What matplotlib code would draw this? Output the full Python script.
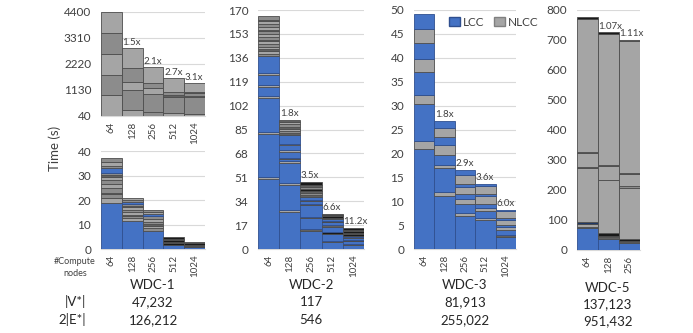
import matplotlib

matplotlib.use("Agg")
import matplotlib.pyplot as plt
from matplotlib.patches import Patch

plt.rcParams["font.family"] = ["Lato", "DejaVu Sans"]

# segment colours: L = LCC, the rest are NLCC shades
COLORS = {
    "L": "#4472C4",
    "N": "#A5A5A5",
    "M": "#8C8C8C",
    "D": "#606060",
    "K": "#1A1A1A",
    "V": "#203864",
}

nodes_5 = ["64", "128", "256", "512", "1024"]
nodes_3 = ["64", "128", "256"]

# each bar: list of (segment top, colour code), bottom to top
wdc1_top = [
    [(920, "N"), (1760, "M"), (2640, "N"), (3540, "M"), (4400, "N")],
    [(290, "N"), (1130, "M"), (1470, "N"), (2060, "M"), (2900, "N")],
    [(200, "M"), (960, "M"), (1210, "N"), (1420, "M"), (2093, "N")],
    [(165, "N"), (835, "M"), (900, "D"), (1050, "M"), (1630, "N")],
    [(130, "N"), (830, "M"), (880, "D"), (1000, "M"), (1050, "D"), (1420, "N")],
]
wdc1_bot = [
    [(18.8, "L"), (20.8, "N"), (22.5, "M"), (23.0, "D"), (25.0, "M"), (26.5, "N"),
     (28.0, "M"), (29.5, "N"), (30.3, "D"), (31.0, "M"), (33.0, "L"), (34.0, "M"),
     (35.5, "N"), (37.0, "M")],
    [(11.4, "L"), (12.5, "N"), (13.5, "M"), (14.0, "D"), (15.0, "N"), (16.0, "M"),
     (17.0, "N"), (17.5, "D"), (18.2, "M"), (19.0, "L"), (20.0, "M"), (21.0, "N")],
    [(7.4, "L"), (8.5, "M"), (9.5, "N"), (10.2, "D"), (11.2, "M"), (12.3, "N"),
     (13.3, "M"), (14.3, "L"), (15.2, "N"), (16.0, "M")],
    [(1.8, "L"), (2.4, "K"), (3.0, "D"), (3.6, "K"), (4.2, "D"), (4.9, "K")],
    [(0.8, "L"), (1.3, "K"), (1.8, "D"), (2.3, "K"), (2.9, "D")],
]
wdc2 = [
    [(49.5, "L"), (51, "N"), (82, "L"), (83.5, "N"), (107.5, "L"), (109, "N"),
     (115.5, "L"), (117, "N"), (124, "L"), (125.5, "N"), (137, "L"), (139, "M"),
     (141, "N"), (142, "D"), (144, "N"), (146, "M"), (148, "N"), (149, "D"),
     (151, "M"), (153, "N"), (155, "M"), (156, "D"), (158, "N"), (160, "M"),
     (162, "N"), (163, "D"), (166, "M")],
    [(26, "L"), (27.5, "N"), (45.5, "L"), (47, "N"), (61, "L"), (62.5, "N"),
     (64, "L"), (65, "D"), (69, "L"), (70.5, "N"), (74, "L"), (75, "N"),
     (81, "L"), (82.5, "D"), (84, "M"), (85.5, "N"), (87, "D"), (89, "M"),
     (90, "N"), (91.5, "D")],
    [(13, "L"), (14, "D"), (22, "L"), (23, "D"), (31, "L"), (32, "D"), (34, "L"),
     (35, "D"), (37, "L"), (38.5, "D"), (40, "M"), (41.5, "D"), (42.5, "K"),
     (44, "M"), (45.5, "D"), (47.4, "K")],
    [(5, "L"), (6, "D"), (11, "L"), (12, "K"), (16, "L"), (17, "D"), (19, "L"),
     (20, "K"), (21, "L"), (22, "D"), (23.5, "K"), (24.2, "D"), (25.2, "K")],
    [(3, "L"), (3.5, "D"), (6, "L"), (6.5, "K"), (8, "L"), (8.5, "D"), (9.5, "L"),
     (11, "K"), (11.5, "D"), (13, "K"), (13.5, "D"), (14.8, "K")],
]
wdc3 = [
    [(21, "L"), (22.5, "N"), (30.3, "L"), (32.2, "N"), (37, "L"), (39.7, "N"),
     (43.1, "L"), (46, "N"), (49.2, "L")],
    [(11, "L"), (12, "N"), (17, "L"), (17.6, "N"), (19.7, "L"), (21.8, "N"),
     (23.4, "L"), (25.3, "N"), (26.8, "L")],
    [(7, "L"), (7.5, "N"), (9.5, "L"), (10.5, "N"), (11.5, "L"), (13, "N"),
     (13.5, "L"), (15.5, "N"), (16.5, "L")],
    [(6, "L"), (6.5, "N"), (8, "L"), (8.5, "N"), (9.5, "L"), (11, "N"),
     (11.5, "L"), (13.2, "N"), (13.7, "L")],
    [(2.5, "L"), (3, "D"), (4, "L"), (4.5, "N"), (5, "L"), (6, "N"), (6.5, "L"),
     (8, "N"), (8.2, "L")],
]
wdc5 = [
    [(73, "L"), (78, "D"), (86, "N"), (93, "V"), (273, "N"), (276, "D"),
     (323, "N"), (326, "D"), (769, "N"), (776, "K")],
    [(38, "L"), (42, "D"), (48, "N"), (56, "K"), (232, "N"), (235, "D"),
     (279, "N"), (282, "D"), (721, "N"), (725, "K")],
    [(23, "L"), (26, "D"), (31, "N"), (37, "K"), (208, "N"), (212, "M"),
     (253, "N"), (256, "D"), (697, "N"), (699, "D")],
]

speedup_wdc1 = ["", "1.5x", "2.1x", "2.7x", "3.1x"]
speedup_wdc2 = ["", "1.8x", "3.5x", "6.6x", "11.2x"]
speedup_wdc3 = ["", "1.8x", "2.9x", "3.6x", "6.0x"]
speedup_wdc5 = ["", "1.07x", "1.11x"]

datasets = ["WDC-1", "WDC-2", "WDC-3", "WDC-5"]
v_counts = ["47,232", "117", "81,913", "137,123"]
e_counts = ["126,212", "546", "255,022", "951,432"]

W, H = 693, 333
TXT = "#404040"


def rect(x0, x1, ytop, ybot):
    return [x0 / W, 1 - ybot / H, (x1 - x0) / W, (ybot - ytop) / H]


def draw_stack(ax, bars, labels, ylim, ticks, speedups=None):
    for i, segs in enumerate(bars):
        bottom = 0
        for top, code in segs:
            edge = "#2F4F8F" if code == "L" else "#4D4D4D"
            ax.bar(i, top - bottom, bottom=bottom, width=1.0, color=COLORS[code],
                   edgecolor=edge, linewidth=0.6, zorder=3)
            bottom = top
        if speedups and speedups[i]:
            ax.text(i - 0.47, bottom + (ylim[1] - ylim[0]) * 0.008, speedups[i],
                    ha="left", va="bottom", fontsize=7, color=TXT, zorder=4)
    ax.set_xlim(-0.5, len(bars) - 0.5)
    ax.set_ylim(*ylim)
    ax.set_yticks(ticks)
    ax.set_yticklabels([str(t) for t in ticks], fontsize=8.5, color=TXT)
    ax.set_xticks(range(len(bars)))
    ax.set_xticklabels(labels, rotation=90, fontsize=7, color=TXT)
    ax.tick_params(length=0, pad=7)
    ax.tick_params(axis="x", pad=4)
    ax.grid(axis="y", color="#D9D9D9", linewidth=0.8, zorder=0)
    for side in ["top", "right", "left"]:
        ax.spines[side].set_visible(False)
    ax.spines["bottom"].set_color("#D9D9D9")


fig = plt.figure(figsize=(6.93, 3.33), dpi=100)

ax1t = fig.add_axes(rect(101, 205, 12, 116))
draw_stack(ax1t, wdc1_top, nodes_5, (40, 4400), [40, 1130, 2220, 3310, 4400], speedup_wdc1)

ax1b = fig.add_axes(rect(101, 205, 151, 249))
draw_stack(ax1b, wdc1_bot, nodes_5, (0, 40), [0, 10, 20, 30, 40])

ax2 = fig.add_axes(rect(258, 364, 10, 249))
draw_stack(ax2, wdc2, nodes_5, (0, 170), list(range(0, 171, 17)), speedup_wdc2)

ax3 = fig.add_axes(rect(414, 516, 10, 249))
draw_stack(ax3, wdc3, nodes_5, (0, 50), list(range(0, 51, 5)), speedup_wdc3)

ax5 = fig.add_axes(rect(577, 640, 10, 250))
draw_stack(ax5, wdc5, nodes_3, (0, 800), list(range(0, 801, 100)), speedup_wdc5)

handles = [
    Patch(facecolor=COLORS["L"], edgecolor="#2F4F8F", label="LCC"),
    Patch(facecolor=COLORS["N"], edgecolor="#808080", label="NLCC"),
]
fig.legend(handles=handles, loc="center left", bbox_to_anchor=(443 / W, 1 - 22 / H),
           ncol=2, frameon=False, fontsize=8.5, handlelength=0.9, handleheight=0.9,
           columnspacing=0.8, handletextpad=0.3, borderpad=0, labelcolor=TXT)

fig.text(55 / W, 1 - 148 / H, "Time (s)", rotation=90, ha="center", va="center",
         fontsize=9.5, color=TXT)
fig.text(75 / W, 1 - 261 / H, "#Compute", ha="center", va="center", fontsize=6.5, color=TXT)
fig.text(75 / W, 1 - 274 / H, "nodes", ha="center", va="center", fontsize=6.5, color=TXT)

centers = [153, 311, 465, 608]
row_y = [[285, 302, 320]] * 3 + [[288, 304, 321]]
for name, v, e, cx, ys in zip(datasets, v_counts, e_counts, centers, row_y):
    fig.text(cx / W, 1 - ys[0] / H, name, ha="center", va="center", fontsize=9.5, color="#262626")
    fig.text(cx / W, 1 - ys[1] / H, v, ha="center", va="center", fontsize=9.5, color="#262626")
    fig.text(cx / W, 1 - ys[2] / H, e, ha="center", va="center", fontsize=9.5, color="#262626")
fig.text(86 / W, 1 - 302 / H, "|V*|", ha="right", va="center", fontsize=9.5, color="#262626")
fig.text(86 / W, 1 - 320 / H, "2|E*|", ha="right", va="center", fontsize=9.5, color="#262626")

fig.savefig("out.png", dpi=100)
plt.close(fig)
